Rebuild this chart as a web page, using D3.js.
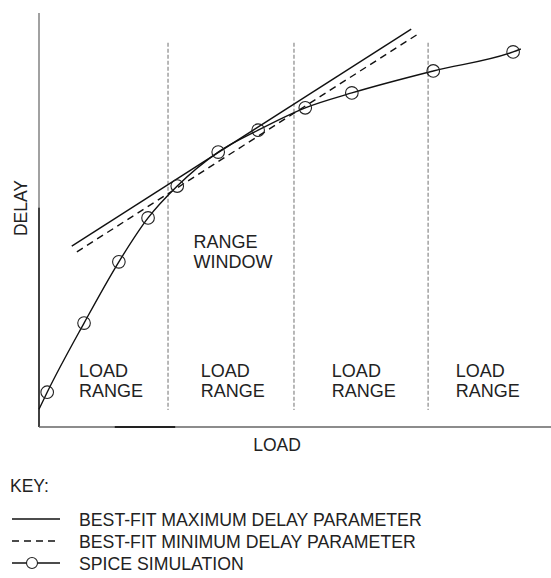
<!DOCTYPE html>
<html>
<head>
<meta charset="utf-8">
<script src="https://cdn.jsdelivr.net/npm/d3@7"></script>
<style>
  body { margin: 0; background: #fff; }
  text { font-family: "Liberation Sans", Arial, sans-serif; fill: #222; }
</style>
</head>
<body>
<div class="chart"></div>
<script>
/* data (arbitrary load / delay units 0..100) */
const spiceLoad  = [0, 1.6, 8.8, 15.6, 21.3, 27.0, 35.0, 42.8, 52.0, 61.1, 77.0, 92.6, 94.1]
const spiceDelay = [4.3, 8.4, 25.1, 39.9, 50.5, 58.2, 66.4, 71.7, 77.1, 80.7, 86.0, 90.6, 91.3]
const spiceMarked = [false, true, true, true, true, true, true, true, true, true, true, true, false]

const maxFitLoad  = [6.4, 72.7]
const maxFitDelay = [43.7, 96.1]
const minFitLoad  = [7.4, 74.0]
const minFitDelay = [42.3, 94.9]

const rangeBounds = [25.2, 49.8, 76.0]
const rangeTop = 92.8
const rangeBottom = 4.1

const rangeLabelLoad = [7.8, 31.6, 57.2, 81.4]
const rangeLabels = ['LOAD', 'RANGE']
const windowLabelLoad = 30.2
const windowLabels = ['RANGE', 'WINDOW']

const keyLabels = [
    'BEST-FIT MAXIMUM DELAY PARAMETER',
    'BEST-FIT MINIMUM DELAY PARAMETER',
    'SPICE SIMULATION'
]

const width = 551
const height = 578
const margin = { left: 39, right: 0, top: 13, bottom: 151 }

const svg = d3.select('.chart')
    .append('svg')
    .attr('width', width)
    .attr('height', height)

const x = d3.scaleLinear().domain([0, 100]).range([margin.left, width - margin.right])
const y = d3.scaleLinear().domain([0, 100]).range([height - margin.bottom, margin.top])

// axes (plain lines, no ticks)
const x0 = x(0), y0 = y(0)
svg.append('line') // y axis, upper part lighter
    .attr('x1', x0).attr('x2', x0)
    .attr('y1', y(100)).attr('y2', y(53))
    .attr('stroke', '#8a8a8a').attr('stroke-width', 1.6)
svg.append('line')
    .attr('x1', x0).attr('x2', x0)
    .attr('y1', y(53)).attr('y2', y0)
    .attr('stroke', '#111').attr('stroke-width', 1.6)
svg.append('line') // x axis
    .attr('x1', x0).attr('x2', x(100))
    .attr('y1', y0).attr('y2', y0)
    .attr('stroke', '#666').attr('stroke-width', 1.6)
svg.append('line')
    .attr('x1', x(14.8)).attr('x2', x(26.6))
    .attr('y1', y0).attr('y2', y0)
    .attr('stroke', '#222').attr('stroke-width', 1.8)

// range boundaries
svg.selectAll('.bound')
    .data(rangeBounds)
    .enter().append('line')
    .attr('class', 'bound')
    .attr('x1', d => x(d)).attr('x2', d => x(d))
    .attr('y1', y(rangeTop)).attr('y2', y(rangeBottom))
    .attr('stroke', '#9a9a9a')
    .attr('stroke-width', 1.4)
    .attr('stroke-dasharray', '4,2')

// best-fit lines
const fitLine = (loads, delays) => d3.line()(loads.map((l, i) => [x(l), y(delays[i])]))
svg.append('path')
    .attr('d', fitLine(maxFitLoad, maxFitDelay))
    .attr('fill', 'none').attr('stroke', '#111').attr('stroke-width', 1.4)
svg.append('path')
    .attr('d', fitLine(minFitLoad, minFitDelay))
    .attr('fill', 'none').attr('stroke', '#111').attr('stroke-width', 1.4)
    .attr('stroke-dasharray', '7,5')

// spice curve
const spicePts = spiceLoad.map((l, i) => [x(l), y(spiceDelay[i])])
svg.append('path')
    .attr('d', d3.line().curve(d3.curveMonotoneX)(spicePts))
    .attr('fill', 'none').attr('stroke', '#111').attr('stroke-width', 1.4)
svg.selectAll('.spice')
    .data(spicePts.filter((p, i) => spiceMarked[i]))
    .enter().append('circle')
    .attr('class', 'spice')
    .attr('cx', d => d[0]).attr('cy', d => d[1])
    .attr('r', 6.3)
    .attr('fill', 'none').attr('stroke', '#222').attr('stroke-width', 1.1)

// labels in the plot
const labelSize = 18
rangeLabelLoad.forEach(l => {
    svg.append('text')
        .attr('x', x(l)).attr('y', 377)
        .style('font-size', labelSize + 'px')
        .selectAll('tspan')
        .data(rangeLabels)
        .enter().append('tspan')
        .attr('x', x(l))
        .attr('dy', (d, i) => i ? 20 : 0)
        .text(d => d)
})
svg.append('text')
    .attr('y', 248)
    .style('font-size', labelSize + 'px')
    .selectAll('tspan')
    .data(windowLabels)
    .enter().append('tspan')
    .attr('x', x(windowLabelLoad))
    .attr('dy', (d, i) => i ? 20 : 0)
    .text(d => d)

// axis titles
svg.append('text')
    .attr('transform', 'translate(27,' + 208 + ') rotate(-90)')
    .attr('text-anchor', 'middle')
    .style('font-size', '17.5px')
    .text('DELAY')
svg.append('text')
    .attr('x', 277).attr('y', 451)
    .attr('text-anchor', 'middle')
    .style('font-size', '17.5px')
    .text('LOAD')

// key
svg.append('text')
    .attr('x', 10).attr('y', 492)
    .style('font-size', '17.5px')
    .text('KEY:')
const keyY = [519, 541, 563]
const key = svg.selectAll('.key')
    .data(keyLabels)
    .enter().append('g')
    .attr('class', 'key')
    .attr('transform', (d, i) => 'translate(0,' + keyY[i] + ')')
key.append('line')
    .attr('x1', 12).attr('x2', 60)
    .attr('stroke', '#111').attr('stroke-width', 1.3)
    .attr('stroke-dasharray', (d, i) => i === 1 ? '7,5' : null)
key.filter((d, i) => i === 2)
    .append('circle')
    .attr('cx', 32).attr('r', 5.5)
    .attr('fill', '#fff').attr('stroke', '#222').attr('stroke-width', 1.1)
key.append('text')
    .attr('x', 79).attr('y', 6.5)
    .style('font-size', '17.7px')
    .text(d => d)
</script>
</body>
</html>
